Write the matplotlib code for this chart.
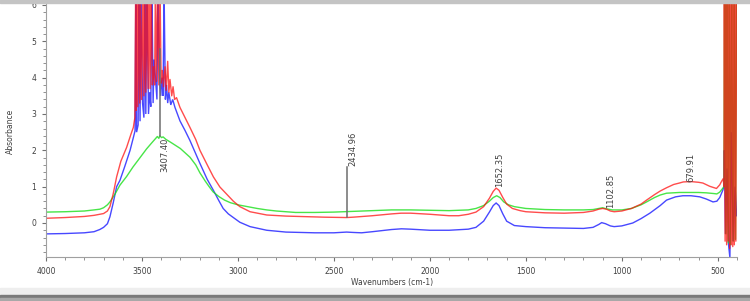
import matplotlib
matplotlib.use("Agg")
import matplotlib.pyplot as plt
from matplotlib.patches import Rectangle
from matplotlib.ticker import MultipleLocator

# ---------------- data ----------------
wn_green = [4000, 3900, 3800, 3750, 3719, 3700, 3680, 3667, 3640, 3615, 3580, 3547,
            3510, 3476, 3450, 3430, 3420, 3412, 3407, 3398, 3390, 3375, 3350, 3300,
            3250, 3220, 3198, 3170, 3150, 3130, 3100, 3070, 3040, 3000, 2950, 2900,
            2850, 2800, 2700, 2600, 2500, 2400, 2300, 2200, 2100, 2000, 1900, 1850,
            1800, 1760, 1720, 1690, 1670, 1652, 1635, 1615, 1590, 1560, 1500, 1400,
            1300, 1200, 1150, 1120, 1100, 1080, 1050, 1000, 950, 900, 871, 830, 800,
            767, 700, 600, 560, 520, 505, 490, 475, 468, 465, 462, 458, 452, 446,
            440, 434, 428, 420, 414, 408, 402]
abs_green = [0.30, 0.31, 0.33, 0.36, 0.38, 0.42, 0.50, 0.58, 0.80, 1.04, 1.28, 1.54,
             1.80, 2.04, 2.20, 2.32, 2.38, 2.33, 2.40, 2.35, 2.37, 2.30, 2.22, 2.05,
             1.81, 1.60, 1.38, 1.15, 1.00, 0.86, 0.73, 0.63, 0.56, 0.50, 0.45, 0.40,
             0.36, 0.33, 0.29, 0.29, 0.30, 0.32, 0.34, 0.36, 0.36, 0.35, 0.34, 0.35,
             0.36, 0.40, 0.48, 0.60, 0.70, 0.75, 0.70, 0.58, 0.50, 0.45, 0.40, 0.37,
             0.36, 0.36, 0.37, 0.40, 0.42, 0.39, 0.36, 0.36, 0.40, 0.50, 0.58, 0.70, 0.77,
             0.82, 0.84, 0.84, 0.83, 0.81, 0.80, 0.85, 0.95, 1.00, 6.50, 6.50, -0.30, 6.50, -0.55,
             6.50, -0.60, 6.50, -0.50, 6.50, -0.45, 6.50]

wn_red = [4000, 3900, 3800, 3750, 3700, 3680, 3667, 3650, 3632, 3610, 3580, 3557, 3545, 3537,
          3533, 3530, 3527, 3522, 3518, 3512, 3508, 3502, 3495, 3490, 3486, 3480, 3474,
          3468, 3464, 3458, 3452, 3446, 3440, 3434, 3430, 3424, 3418, 3412, 3406, 3400,
          3394, 3388, 3380, 3374, 3366, 3360, 3354, 3345, 3338, 3330, 3320, 3302, 3280,
          3250, 3220, 3198, 3160, 3128, 3094, 3060, 3024, 2990, 2937, 2850, 2750, 2677,
          2550, 2434, 2400, 2300, 2200, 2150, 2100, 2000, 1900, 1850, 1800, 1760, 1720,
          1690, 1670, 1655, 1640, 1620, 1600, 1570, 1530, 1500, 1400, 1300, 1200, 1150,
          1120, 1100, 1080, 1060, 1040, 1000, 950, 900, 871, 830, 800, 767, 730, 700,
          680, 640, 600, 578, 542, 507, 490, 480, 472, 468, 466, 462, 458, 454, 450, 446,
          442, 438, 434, 430, 426, 422, 418, 414, 410, 406, 402]
abs_red = [0.13, 0.15, 0.18, 0.21, 0.26, 0.33, 0.45, 0.80, 1.27, 1.70, 2.08, 2.45, 2.63, 2.90,
           6.50, 3.10, 6.50, 3.20, 6.50, 3.30, 6.50, 3.40, 6.50, 3.50, 6.50, 3.60, 6.50,
           3.70, 6.50, 3.70, 6.50, 3.80, 4.30, 3.80, 6.50, 3.90, 6.50, 3.80, 6.50, 3.85,
           4.20, 3.75, 4.30, 3.65, 4.45, 3.60, 3.95, 3.50, 3.75, 3.40, 3.45, 3.18, 2.95,
           2.63, 2.30, 2.00, 1.60, 1.27, 0.99, 0.80, 0.60, 0.45, 0.31, 0.22, 0.19, 0.18,
           0.16, 0.15, 0.16, 0.20, 0.25, 0.27, 0.27, 0.24, 0.20, 0.20, 0.24, 0.30, 0.45,
           0.68, 0.87, 0.96, 0.90, 0.70, 0.52, 0.40, 0.34, 0.31, 0.28, 0.27, 0.29, 0.33,
           0.38, 0.40, 0.38, 0.33, 0.31, 0.33, 0.40, 0.52, 0.63, 0.78, 0.88, 0.97, 1.06, 1.10,
           1.13, 1.14, 1.12, 1.10, 1.01, 0.95, 1.05, 1.15, 1.22, 1.00, 6.50, -0.50, 6.50, -0.60,
           6.50, -0.50, 6.50, -0.70, 6.50, -0.60, 6.50, -0.65, 6.50, -0.60, 6.50, -0.50, 6.50]

wn_blue = [4000, 3900, 3800, 3750, 3720, 3700, 3680, 3667, 3650, 3632, 3615, 3590, 3562,
           3545, 3536, 3532, 3528, 3520, 3516, 3510, 3505, 3497, 3490, 3484, 3480, 3474,
           3466, 3460, 3454, 3448, 3442, 3437, 3430, 3422, 3417, 3408, 3402, 3396, 3390,
           3385, 3378, 3372, 3366, 3360, 3350, 3340, 3328, 3302, 3276, 3250, 3198, 3160,
           3128, 3100, 3077, 3050, 3024, 2990, 2937, 2850, 2750, 2600, 2500, 2434, 2400,
           2356, 2300, 2200, 2148, 2100, 2000, 1900, 1800, 1760, 1720, 1690, 1670, 1655,
           1640, 1620, 1600, 1560, 1500, 1400, 1300, 1200, 1150, 1120, 1105, 1085, 1060,
           1040, 1000, 943, 900, 854, 800, 767, 720, 682, 640, 594, 560, 525, 505, 490,
           474, 468, 466, 460, 452, 444, 437, 430, 420, 410, 402]
abs_blue = [-0.30, -0.29, -0.27, -0.24, -0.18, -0.12, -0.02, 0.17, 0.55, 1.00, 1.17, 1.55, 2.00,
            2.35, 2.54, 6.50, 2.50, 2.70, 6.50, 2.80, 6.50, 3.30, 2.90, 6.50, 3.00, 6.50,
            3.00, 3.60, 3.20, 6.50, 3.30, 4.50, 4.00, 3.40, 6.50, 3.90, 3.50, 4.00, 3.50,
            6.50, 3.40, 3.80, 3.30, 3.60, 3.25, 3.40, 3.18, 2.81, 2.55, 2.27, 1.64, 1.20,
            0.90, 0.62, 0.40, 0.25, 0.15, 0.02, -0.10, -0.20, -0.25, -0.27, -0.27, -0.25, -0.26,
            -0.27, -0.24, -0.18, -0.16, -0.17, -0.20, -0.20, -0.17, -0.12, 0.05, 0.30, 0.48, 0.55,
            0.48, 0.25, 0.05, -0.07, -0.10, -0.13, -0.14, -0.15, -0.12, -0.04, 0.01, -0.02, -0.08,
            -0.10, -0.08, 0.00, 0.12, 0.27, 0.48, 0.63, 0.72, 0.75, 0.75, 0.72, 0.66, 0.58, 0.60, 0.70,
            0.90, 1.00, 2.00, -0.30, 1.50, -0.60, -0.95, 2.50, -0.50, 1.00, 0.20]

peak_labels = ["3407.40", "2434.96", "1652.35", "1102.85", "679.91"]
peak_text_x = [3380, 2401, 1635, 1057, 641]
peak_text_y = [1.39, 1.58, 0.98, 0.41, 1.12]

marker_x = [3407, 2434]
marker_y0 = [2.40, 0.16]
marker_y1 = [4.80, 1.55]

x_ticks = [4000, 3500, 3000, 2500, 2000, 1500, 1000, 500]
y_ticks = [0, 1, 2, 3, 4, 5, 6]

# ---------------- figure ----------------
plt.rcParams['font.family'] = ['DejaVu Sans']
fig = plt.figure(figsize=(7.5, 3.01), dpi=100)
W, H = 750, 301
ax = fig.add_axes([46 / W, 44 / H, 691 / W, 254 / H])

ax.plot(wn_blue, abs_blue, color='#1a1aff', lw=1.0, alpha=0.8, solid_joinstyle='miter')
ax.plot(wn_green, abs_green, color='#1adf1a', lw=1.0, alpha=0.8)
ax.plot(wn_red, abs_red, color='#ff1010', lw=1.0, alpha=0.75)

for x, y0, y1 in zip(marker_x, marker_y0, marker_y1):
    ax.plot([x, x], [y0, y1], color='#6e6e6e', lw=1.1)

for lab, x, y in zip(peak_labels, peak_text_x, peak_text_y):
    ax.text(x, y, lab, rotation=90, ha='center', va='bottom', fontsize=6,
            color='#404040')

ax.set_xlim(4000, 400)
ax.set_ylim(-0.936, 6.055)
ax.set_xticks(x_ticks)
ax.set_xticklabels([str(t) for t in x_ticks])
ax.set_yticks(y_ticks)
ax.set_yticklabels([str(t) for t in y_ticks])
ax.xaxis.set_minor_locator(MultipleLocator(100))
ax.yaxis.set_minor_locator(MultipleLocator(0.2))
ax.tick_params(which='major', length=3, width=0.8, color='#707070', labelsize=5.5,
               labelcolor='#404040', pad=4)
ax.tick_params(which='minor', length=2, width=0.6, color='#808080')
for s in ['top', 'right']:
    ax.spines[s].set_visible(False)
for s in ['left', 'bottom']:
    ax.spines[s].set_color('#a0a0a0')
    ax.spines[s].set_linewidth(0.8)

fig.text(392 / W, 1 - 282 / H, 'Wavenumbers (cm-1)', ha='center', va='center',
         fontsize=5.5, color='#404040')
fig.text(10 / W, 1 - 131 / H, 'Absorbance', ha='center', va='center', rotation=90,
         fontsize=5.5, color='#404040')

# window frame bits
fig.patches.append(Rectangle((0, 1 - 2.5 / H), 1, 2.5 / H, transform=fig.transFigure,
                             color='#c4c4c4', zorder=5))
fig.patches.append(Rectangle((0, 6 / H), 1, 7 / H, transform=fig.transFigure,
                             color='#eeeeee', zorder=5))
fig.patches.append(Rectangle((0, 3.5 / H), 1, 2.5 / H, transform=fig.transFigure,
                             color='#7a7a7a', zorder=5))
fig.patches.append(Rectangle((0, 0), 1, 3.5 / H, transform=fig.transFigure,
                             color='#a8a8a8', zorder=5))

fig.savefig('out.png', dpi=100)
